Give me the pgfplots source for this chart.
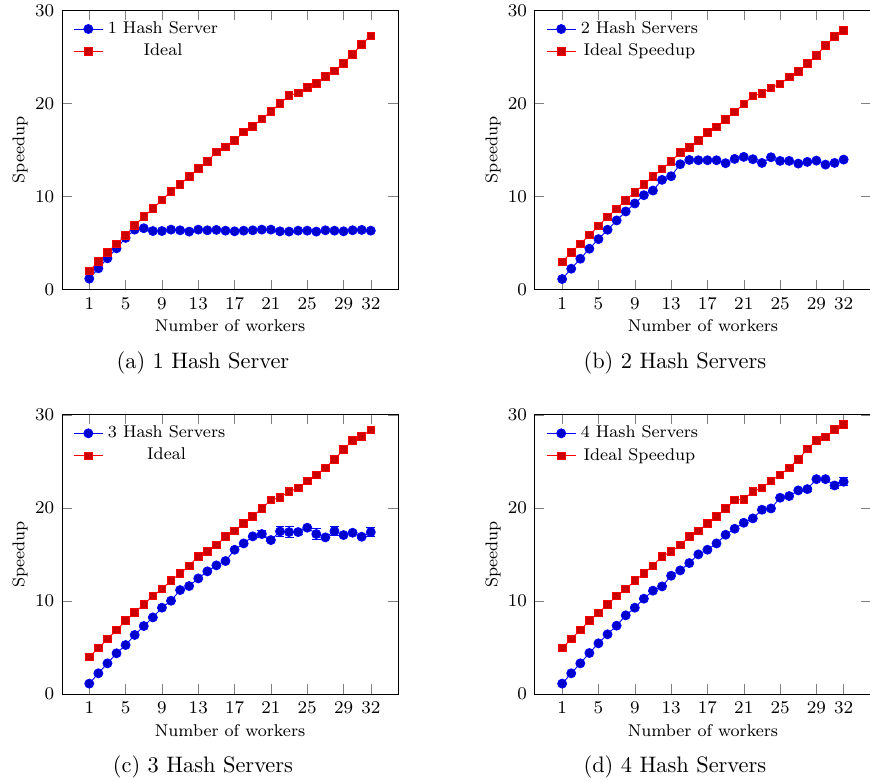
\documentclass[border=0pt]{standalone}
\usepackage{pgfplots}
\pgfplotsset{compat=1.18}

\pgfplotsset{
  speedax/.style={
    scale only axis,
    width=150pt, height=124.6pt,
    anchor=south west,
    xmin=-2, xmax=35, ymin=0, ymax=30,
    xtick={1,5,9,13,17,21,25,29,32},
    ytick={0,10,20,30},
    xlabel={Number of workers},
    ylabel={Speedup},
    xlabel shift=-2pt,
    ylabel shift=-3.6pt,
    font=\fontsize{7.6}{9}\selectfont,
    legend cell align=center,
    legend image code/.code={%
      \draw[mark repeat=2,mark phase=2,##1] plot coordinates {(0cm,0cm) (0.23cm,0cm) (0.46cm,0cm)};},
    legend style={draw=none, fill=none, at={(0.012,0.995)}, anchor=north west,
      font=\fontsize{7.6}{9}\selectfont, row sep=-0.8pt},
  },
  eb/.style={error bars/.cd, y dir=both, y explicit},
}

\begin{document}
\begin{tikzpicture}
\path[use as bounding box] (0,0) rectangle (388.4pt,-349.1pt);

% (a) one hash server
\begin{axis}[speedax, at={(27.7pt,-129.3pt)}]
\addplot+[eb] coordinates {
 (1,1.18) +- (0,0.05) (2,2.29) +- (0,0.05) (3,3.37) +- (0,0.05) (4,4.44) +- (0,0.05)
 (5,5.56) +- (0,0.05) (6,6.45) +- (0,0.05) (7,6.60) +- (0,0.05) (8,6.30) +- (0,0.05)
 (9,6.30) +- (0,0.05) (10,6.45) +- (0,0.05) (11,6.38) +- (0,0.05) (12,6.24) +- (0,0.05)
 (13,6.45) +- (0,0.05) (14,6.38) +- (0,0.05) (15,6.42) +- (0,0.05) (16,6.34) +- (0,0.05)
 (17,6.27) +- (0,0.05) (18,6.34) +- (0,0.05) (19,6.38) +- (0,0.05) (20,6.45) +- (0,0.05)
 (21,6.45) +- (0,0.05) (22,6.27) +- (0,0.05) (23,6.24) +- (0,0.05) (24,6.34) +- (0,0.05)
 (25,6.34) +- (0,0.05) (26,6.24) +- (0,0.05) (27,6.38) +- (0,0.05) (28,6.34) +- (0,0.05)
 (29,6.27) +- (0,0.05) (30,6.38) +- (0,0.05) (31,6.42) +- (0,0.05) (32,6.34) +- (0,0.05)
};
\addlegendentry{1 Hash Server}
\addplot+[mark size=1.7pt] coordinates {
 (1,2.01) (2,3.01) (3,3.98) (4,4.91) (5,5.84) (6,6.88) (7,7.85) (8,8.71)
 (9,9.64) (10,10.54) (11,11.33) (12,12.15) (13,13.01) (14,13.80) (15,14.80) (16,15.34)
 (17,16.06) (18,16.95) (19,17.53) (20,18.35) (21,19.14) (22,20.00) (23,20.86) (24,21.15)
 (25,21.76) (26,22.15) (27,22.90) (28,23.51) (29,24.34) (30,25.30) (31,26.38) (32,27.28)
};
\addlegendentry{Ideal}
\end{axis}

% (b) two hash servers
\begin{axis}[speedax, at={(238.8pt,-129.3pt)}]
\addplot+[eb] coordinates {
 (1,1.14) +- (0,0.05) (2,2.25) +- (0,0.05) (3,3.32) +- (0,0.05) (4,4.40) +- (0,0.05)
 (5,5.43) +- (0,0.05) (6,6.44) +- (0,0.05) (7,7.44) +- (0,0.05) (8,8.40) +- (0,0.05)
 (9,9.26) +- (0,0.05) (10,10.15) +- (0,0.05) (11,10.65) +- (0,0.05) (12,11.80) +- (0,0.05)
 (13,12.19) +- (0,0.05) (14,13.48) +- (0,0.05) (15,13.94) +- (0,0.05) (16,13.91) +- (0,0.1)
 (17,13.91) +- (0,0.1) (18,13.91) +- (0,0.05) (19,13.59) +- (0,0.1) (20,14.05) +- (0,0.05)
 (21,14.27) +- (0,0.05) (22,14.02) +- (0,0.05) (23,13.62) +- (0,0.05) (24,14.23) +- (0,0.05)
 (25,13.84) +- (0,0.05) (26,13.84) +- (0,0.05) (27,13.55) +- (0,0.05) (28,13.73) +- (0,0.05)
 (29,13.87) +- (0,0.05) (30,13.44) +- (0,0.05) (31,13.62) +- (0,0.05) (32,13.98) +- (0,0.05)
};
\addlegendentry{2 Hash Servers}
\addplot+[mark size=1.7pt] coordinates {
 (1,2.97) (2,3.97) (3,4.93) (4,5.86) (5,6.86) (6,7.83) (7,8.69) (8,9.62)
 (9,10.48) (10,11.30) (11,12.16) (12,12.98) (13,13.76) (14,14.77) (15,15.30) (16,16.02)
 (17,16.91) (18,17.48) (19,18.30) (20,19.09) (21,19.95) (22,20.81) (23,21.09) (24,21.70)
 (25,22.09) (26,22.85) (27,23.45) (28,24.28) (29,25.20) (30,26.24) (31,27.20) (32,27.89)
};
\addlegendentry{Ideal Speedup}
\end{axis}

% (c) three hash servers
\begin{axis}[speedax, at={(27.7pt,-309.8pt)}]
\addplot+[eb] coordinates {
 (1,1.11) +- (0,0.05) (2,2.22) +- (0,0.05) (3,3.29) +- (0,0.05) (4,4.37) +- (0,0.05)
 (5,5.26) +- (0,0.05) (6,6.34) +- (0,0.05) (7,7.30) +- (0,0.05) (8,8.23) +- (0,0.05)
 (9,9.27) +- (0,0.05) (10,10.02) +- (0,0.05) (11,11.17) +- (0,0.05) (12,11.60) +- (0,0.05)
 (13,12.42) +- (0,0.05) (14,13.18) +- (0,0.05) (15,13.82) +- (0,0.05) (16,14.29) +- (0,0.05)
 (17,15.50) +- (0,0.05) (18,16.18) +- (0,0.1) (19,16.94) +- (0,0.1) (20,17.19) +- (0,0.35)
 (21,16.54) +- (0,0.2) (22,17.47) +- (0,0.5) (23,17.40) +- (0,0.6) (24,17.40) +- (0,0.3)
 (25,17.87) +- (0,0.1) (26,17.19) +- (0,0.55) (27,16.83) +- (0,0.15) (28,17.51) +- (0,0.45)
 (29,17.08) +- (0,0.2) (30,17.33) +- (0,0.1) (31,16.90) +- (0,0.15) (32,17.40) +- (0,0.45)
};
\addlegendentry{3 Hash Servers}
\addplot+[mark size=1.7pt] coordinates {
 (1,3.97) (2,4.94) (3,5.91) (4,6.87) (5,7.88) (6,8.74) (7,9.63) (8,10.53)
 (9,11.28) (10,12.17) (11,12.96) (12,13.78) (13,14.79) (14,15.29) (15,16.00) (16,16.90)
 (17,17.51) (18,18.33) (19,19.08) (20,19.94) (21,20.84) (22,21.12) (23,21.77) (24,22.13)
 (25,22.91) (26,23.56) (27,24.31) (28,25.21) (29,26.28) (30,27.25) (31,27.68) (32,28.39)
};
\addlegendentry{Ideal}
\end{axis}

% (d) four hash servers
\begin{axis}[speedax, at={(238.8pt,-309.8pt)}]
\addplot+[eb] coordinates {
 (1,1.11) +- (0,0.05) (2,2.22) +- (0,0.05) (3,3.29) +- (0,0.05) (4,4.40) +- (0,0.05)
 (5,5.44) +- (0,0.05) (6,6.41) +- (0,0.05) (7,7.34) +- (0,0.05) (8,8.45) +- (0,0.05)
 (9,9.27) +- (0,0.05) (10,10.24) +- (0,0.05) (11,11.10) +- (0,0.05) (12,11.56) +- (0,0.05)
 (13,12.71) +- (0,0.05) (14,13.28) +- (0,0.05) (15,14.07) +- (0,0.05) (16,15.00) +- (0,0.05)
 (17,15.50) +- (0,0.05) (18,16.18) +- (0,0.05) (19,17.11) +- (0,0.05) (20,17.76) +- (0,0.05)
 (21,18.40) +- (0,0.05) (22,18.87) +- (0,0.05) (23,19.80) +- (0,0.05) (24,19.94) +- (0,0.05)
 (25,21.09) +- (0,0.05) (26,21.27) +- (0,0.05) (27,21.88) +- (0,0.05) (28,22.02) +- (0,0.2)
 (29,23.09) +- (0,0.05) (30,23.09) +- (0,0.05) (31,22.41) +- (0,0.3) (32,22.81) +- (0,0.45)
};
\addlegendentry{4 Hash Servers}
\addplot+[mark size=1.7pt] coordinates {
 (1,4.94) (2,5.91) (3,6.87) (4,7.88) (5,8.70) (6,9.63) (7,10.53) (8,11.28)
 (9,12.17) (10,12.96) (11,13.78) (12,14.79) (13,15.29) (14,16.00) (15,16.90) (16,17.51)
 (17,18.33) (18,19.08) (19,19.94) (20,20.84) (21,20.91) (22,21.77) (23,22.13) (24,22.91)
 (25,23.56) (26,24.31) (27,25.21) (28,26.32) (29,27.25) (30,27.64) (31,28.43) (32,29.00)
};
\addlegendentry{Ideal Speedup}
\end{axis}

% subfigure captions
\begin{scope}[every node/.style={font=\fontsize{10}{12}\selectfont, inner sep=0pt}]
\node at (90.6pt,-161.8pt) {(a) 1 Hash Server};
\node at (301.3pt,-161.8pt) {(b) 2 Hash Servers};
\node at (90.6pt,-342.5pt) {(c) 3 Hash Servers};
\node at (301.3pt,-342.5pt) {(d) 4 Hash Servers};
\end{scope}
\end{tikzpicture}
\end{document}
